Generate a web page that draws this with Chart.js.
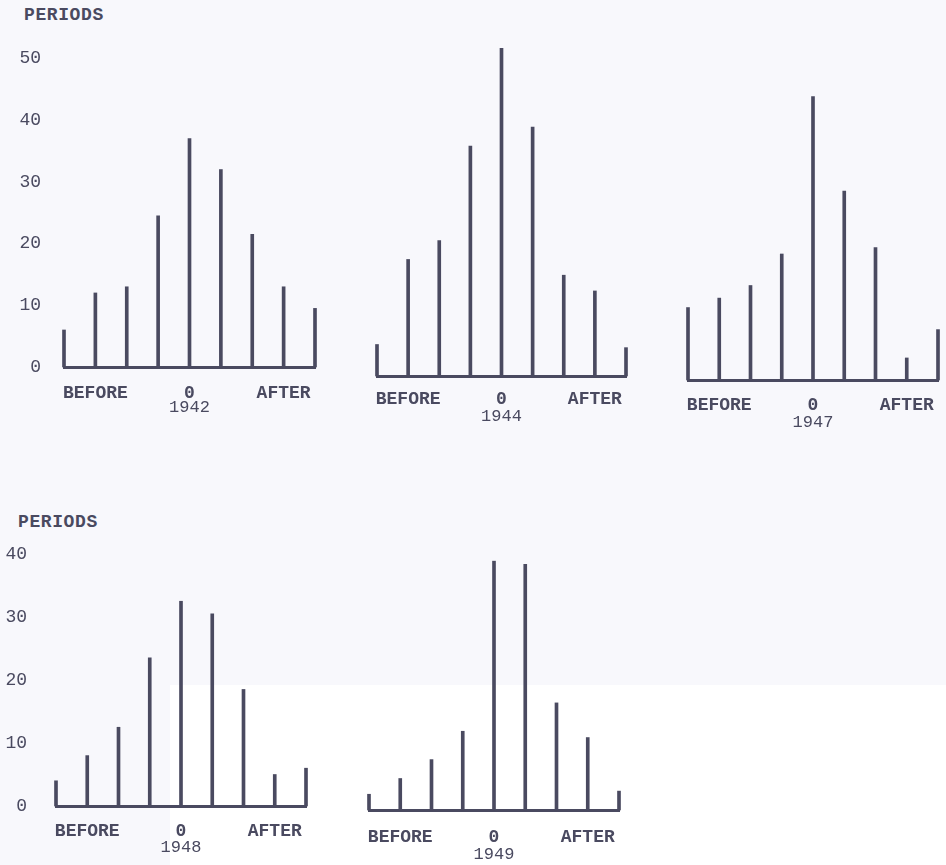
<!DOCTYPE html>
<html>
<head>
<meta charset="utf-8">
<script src="https://cdn.jsdelivr.net/npm/chart.js@4"></script>
<style>
  body { margin: 0; background: #f8f8fc; }
  #page { position: relative; width: 946px; height: 865px; overflow: hidden; }
  #page canvas { position: absolute; left: 0; top: 0; }
  .scanwhite { position: absolute; left: 170px; top: 685px; width: 776px; height: 180px; background: #ffffff; }
  .ylabel { position: absolute; font: bold 18px "Liberation Mono", monospace; color: #4a4a60; letter-spacing: 0.6px; }
</style>
</head>
<body>
<div id="page">
  <div class="scanwhite"></div>
  <div class="ylabel" style="left:24px; top:5px;">PERIODS</div>
  <div class="ylabel" style="left:18px; top:512px;">PERIODS</div>
  <canvas id="c1942" width="946" height="865"></canvas>
  <canvas id="c1944" width="946" height="865"></canvas>
  <canvas id="c1947" width="946" height="865"></canvas>
  <canvas id="c1948" width="946" height="865"></canvas>
  <canvas id="c1949" width="946" height="865"></canvas>
</div>
<script>
const periodLabels = ['', 'BEFORE', '', '', '0', '', '', 'AFTER', ''];

const values1942 = [6, 12, 13, 24.5, 37, 32, 21.5, 13, 9.5];
const values1944 = [5, 18.5, 21.5, 36.5, 52, 39.5, 16, 13.5, 4.5];
const values1947 = [11.5, 13, 15, 20, 45, 30, 21, 3.5, 8];
const values1948 = [4, 8, 12.5, 23.5, 32.5, 30.5, 18.5, 5, 6];
const values1949 = [2.5, 5, 8, 12.5, 39.5, 39, 17, 11.5, 3];

const ink = '#4a4a60';
const pxPerUnit = 6.3;
const W = 946, H = 865;

function makePanel(id, year, values, p) {
    const T = p.base - p.max * pxPerUnit;
    const xHeight = p.titleAt + 10;
    const yWidth = p.showY ? p.yWidth : 0;
    new Chart(document.getElementById(id).getContext('2d'), {
        type: 'bar',
        data: {
            labels: periodLabels,
            datasets: [{
                data: values,
                backgroundColor: ink,
                barThickness: 3,
                clip: false
            }]
        },
        options: {
            responsive: false,
            animation: false,
            events: [],
            layout: {
                padding: { left: p.left - yWidth, right: W - p.right, top: T, bottom: H - p.base - xHeight }
            },
            plugins: { legend: { display: false }, tooltip: { enabled: false } },
            scales: {
                x: {
                    offset: false,
                    grid: { display: false },
                    border: { display: true, color: ink, width: 3 },
                    ticks: {
                        autoSkip: false, maxRotation: 0, padding: p.tickPad, color: ink,
                        font: { family: 'Liberation Mono', size: 18, weight: 'bold' }
                    },
                    title: {
                        display: true, text: year, color: ink, padding: 0,
                        font: { family: 'Liberation Mono', size: 17 }
                    },
                    afterFit: s => { s.height = xHeight; }
                },
                y: {
                    display: p.showY,
                    min: 0,
                    max: p.max,
                    grid: { display: false, drawTicks: false },
                    border: { display: false },
                    ticks: {
                        stepSize: 10, includeBounds: false, padding: p.yPad, color: ink,
                        font: { family: 'Liberation Mono', size: 18 }
                    },
                    afterFit: s => { s.width = yWidth; }
                }
            }
        }
    });
}

makePanel('c1942', '1942', values1942, { left: 64, right: 315, base: 367, max: 54, tickPad: 8, titleAt: 41, showY: true, yWidth: 60, yPad: 23 });
makePanel('c1944', '1944', values1944, { left: 377, right: 626, base: 376, max: 54, tickPad: 5, titleAt: 41, showY: false });
makePanel('c1947', '1947', values1947, { left: 688, right: 938, base: 380, max: 54, tickPad: 7, titleAt: 43, showY: false });
makePanel('c1948', '1948', values1948, { left: 56, right: 306, base: 806, max: 42, tickPad: 7, titleAt: 42, showY: true, yWidth: 52, yPad: 29 });
makePanel('c1949', '1949', values1949, { left: 369, right: 619, base: 810, max: 42, tickPad: 9, titleAt: 45, showY: false });
</script>
</body>
</html>
